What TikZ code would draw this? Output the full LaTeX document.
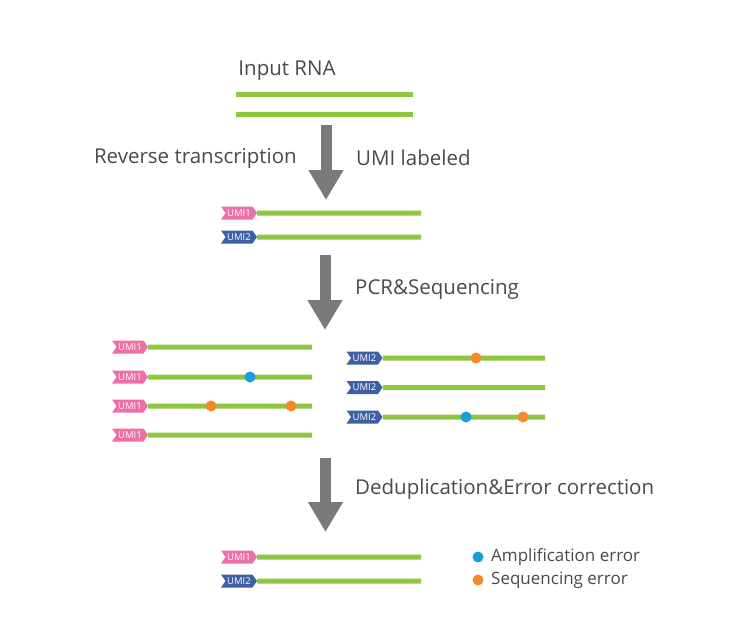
\documentclass[tikz,border=0pt]{standalone}
\usepackage{fontspec}
\setmainfont{Open Sans}
\usetikzlibrary{shapes.symbols,arrows.meta,backgrounds}

\definecolor{rnagreen}{HTML}{8DC63F}
\definecolor{umipink}{HTML}{EE6FA6}
\definecolor{umiblue}{HTML}{3D5FA3}
\definecolor{ampblue}{HTML}{1B9DDB}
\definecolor{seqorange}{HTML}{F58A2A}
\definecolor{flowgray}{HTML}{7A7A7A}
\definecolor{txtgray}{HTML}{4A4A4A}

\tikzset{
 strand/.style={rnagreen, line width=5pt},
 umitag/.style={signal, signal to=east, signal from=west, signal pointer angle=110,
  minimum width=36pt, minimum height=13pt, inner sep=0pt, text=white,
  font=\fontsize{9.5}{9.5}\selectfont},
 umione/.style={umitag, fill=umipink},
 umitwo/.style={umitag, fill=umiblue},
 amperr/.style={circle, fill=ampblue, minimum size=11pt, inner sep=0pt},
 seqerr/.style={circle, fill=seqorange, minimum size=11pt, inner sep=0pt},
 flow/.style={flowgray, line width=11pt, -{Triangle[width=33pt,length=30pt]}},
 caption/.style={text=txtgray, font=\fontsize{20.5}{20.5}\selectfont, inner sep=0pt},
 keytext/.style={text=txtgray, font=\fontsize{17}{17}\selectfont, inner sep=0pt, anchor=west}
}

\begin{document}
\begin{tikzpicture}[x=1pt, y=-1pt]
 \useasboundingbox (0,0) rectangle (749,621);

 % input RNA
 \node[caption] (input) at (287,71) {Input RNA};
 \coordinate (r1s) at (236,94);  \coordinate (r1e) at (413,94);
 \coordinate (r2s) at (236,114); \coordinate (r2e) at (413,114);

 % step 1
 \coordinate (f1s) at (326,125); \coordinate (f1e) at (326,200);
 \node[caption, anchor=east] (rt) at (297,158) {Reverse transcription};
 \node[caption, anchor=west] (lab) at (356,158) {UMI labeled};

 \node[umione] (a1) at (239,213) {UMI1};
 \node[umitwo] (a2) at (239,237) {UMI2};
 \coordinate (a1e) at (421,213);
 \coordinate (a2e) at (421,237);

 % step 2
 \coordinate (f2s) at (325,255); \coordinate (f2e) at (325,330);
 \node[caption, anchor=west] (pcr) at (355,289) {PCR\&Sequencing};

 \node[umione] (b1) at (130,347) {UMI1};
 \node[umione] (b2) at (130,377) {UMI1};
 \node[umione] (b3) at (130,406) {UMI1};
 \node[umione] (b4) at (130,435) {UMI1};
 \coordinate (b1e) at (312,347);
 \coordinate (b2e) at (312,377);
 \coordinate (b3e) at (312,406);
 \coordinate (b4e) at (312,435);
 \node[amperr] (b2x) at (250,377) {};
 \node[seqerr] (b3x) at (211,406) {};
 \node[seqerr] (b3y) at (291,406) {};

 \node[umitwo] (c1) at (364.5,358) {UMI2};
 \node[umitwo] (c2) at (364.5,387.5) {UMI2};
 \node[umitwo] (c3) at (364.5,417) {UMI2};
 \coordinate (c1e) at (545,358);
 \coordinate (c2e) at (545,387.5);
 \coordinate (c3e) at (545,417);
 \node[seqerr] (c1x) at (476,358) {};
 \node[amperr] (c3x) at (466,417) {};
 \node[seqerr] (c3y) at (523,417) {};

 % step 3
 \coordinate (f3s) at (325.5,458); \coordinate (f3e) at (325.5,532);
 \node[caption, anchor=west] (dedup) at (355,489) {Deduplication\&Error correction};

 \node[umione] (d1) at (239,557) {UMI1};
 \node[umitwo] (d2) at (239,581) {UMI2};
 \coordinate (d1e) at (421,557);
 \coordinate (d2e) at (421,581);

 % legend
 \node[amperr] (key1) at (478,557) {};
 \node[seqerr] (key2) at (478,580) {};
 \node[keytext] (key1t) at (491,557) {Amplification error};
 \node[keytext] (key2t) at (491,580) {Sequencing error};

 \draw[flow] (f1s) -- (f1e);
 \draw[flow] (f2s) -- (f2e);
 \draw[flow] (f3s) -- (f3e);

 \begin{pgfonlayer}{background}
 \draw[strand] (r1s) -- (r1e);
 \draw[strand] (r2s) -- (r2e);
 \draw[strand] (a1) -- (a1e);
 \draw[strand] (a2) -- (a2e);
 \draw[strand] (b1) -- (b1e);
 \draw[strand] (b2) -- (b2e);
 \draw[strand] (b3) -- (b3e);
 \draw[strand] (b4) -- (b4e);
 \draw[strand] (c1) -- (c1e);
 \draw[strand] (c2) -- (c2e);
 \draw[strand] (c3) -- (c3e);
 \draw[strand] (d1) -- (d1e);
 \draw[strand] (d2) -- (d2e);
 \end{pgfonlayer}
\end{tikzpicture}
\end{document}
